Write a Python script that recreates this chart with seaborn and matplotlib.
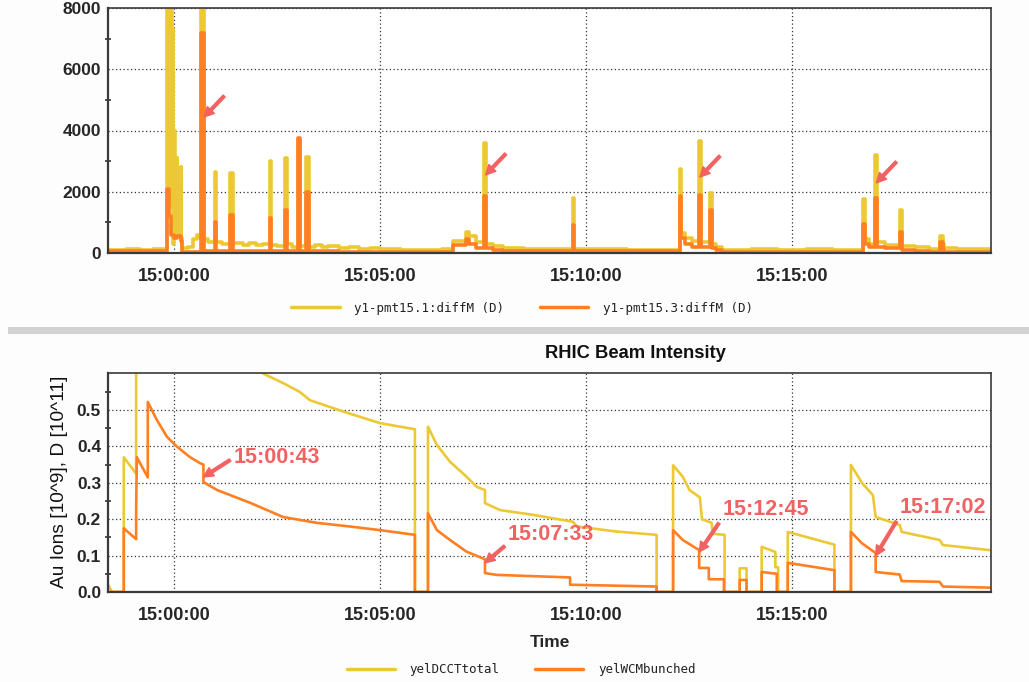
import matplotlib
matplotlib.use("Agg")
import matplotlib.pyplot as plt
from matplotlib.ticker import MultipleLocator, FixedLocator, FuncFormatter
from matplotlib.patches import Rectangle
import seaborn as sns

# ---------------- data (time in seconds after 15:00:00) ----------------
pmt1_t = [-96, -70, -50, -30, -10, -9, -8, -7, -6, -5, -4, -3, -2, -1, 0, 1, 2, 3, 4, 5,
          6, 7, 8, 9, 10, 11, 12, 20, 28, 33, 38, 40, 44, 50,
          60, 62, 70, 82, 86, 100, 110, 120, 130, 140, 142, 150, 162, 164, 172, 181, 183, 193, 197, 205,
          215, 225, 240, 255, 270, 285, 300, 330,
          360, 390, 406, 425, 430, 440, 452, 455, 465, 480, 510, 540, 581, 583, 620, 660, 700, 737, 739, 745,
          755, 765, 767, 781, 783, 790, 798, 840, 880, 920, 960, 1004, 1006, 1012, 1021, 1024, 1035, 1058, 1060, 1080,
          1100, 1116, 1120, 1122, 1140, 1160, 1190]
pmt1_v = [110, 130, 100, 120, 9000, 1500, 9000, 2000, 9000, 1800, 9000, 1500, 7300, 300, 4000, 600, 2800, 700, 3100, 600,
          2700, 600, 2100, 500, 2800, 500, 150, 200, 450, 600, 500, 9000, 450, 350,
          2650, 350, 300, 2600, 320, 260, 330, 250, 300, 3000, 260, 220, 3100, 280, 200, 3700, 240, 3150, 200, 260,
          180, 230, 170, 200, 140, 170, 120, 100,
          110, 130, 400, 700, 550, 350, 3600, 300, 220, 160, 140, 120, 1800, 130, 120, 110, 110, 2750, 650, 500,
          400, 3650, 350, 1950, 300, 200, 110, 120, 100, 130, 100, 1750, 450, 300, 3200, 350, 250, 1400, 220, 180,
          130, 550, 300, 150, 120, 140, 120]

pmt3_t = [-96, -60, -10, -7, -4, 0, 4, 10, 12, 40, 44, 60, 62, 82, 86, 140, 142, 162, 164, 181,
          183, 193, 197, 240, 406, 425, 430, 440, 452, 455, 465, 480, 581, 583, 737, 739, 745, 755, 765, 767,
          781, 783, 790, 798, 1004, 1006, 1012, 1021, 1024, 1035, 1058, 1060, 1080, 1100, 1116, 1120, 1122, 1190]
pmt3_v = [50, 60, 2100, 1200, 600, 500, 550, 400, 40, 7200, 60, 1000, 60, 1250, 60, 1150, 50, 1400, 50, 3750,
          50, 2000, 60, 40, 250, 450, 300, 150, 1850, 150, 100, 70, 900, 50, 1850, 500, 300, 200, 1900, 200,
          1400, 150, 100, 30, 950, 300, 200, 1800, 200, 150, 700, 100, 80, 40, 350, 100, 40, 30]

dcct_t = [-96, -90, -73, -73, -55, -55, 60, 130, 159, 183, 198, 232, 256, 300, 351, 351, 370, 370, 383, 402,
          426, 441, 453, 453, 475, 523, 581, 587, 645, 703, 703, 727, 727, 741, 751, 766, 769, 783, 785, 802,
          802, 824, 824, 834, 834, 856, 856, 876, 876, 880, 880, 894, 894, 962, 962, 986, 986, 1002, 1018, 1022,
          1057, 1060, 1115, 1120, 1188]
dcct_v = [0.02, 0.0, 0.0, 0.37, 0.325, 1.2, 0.75, 0.6, 0.574, 0.55, 0.527, 0.505, 0.49, 0.464, 0.447, 0.0, 0.0, 0.454, 0.404, 0.358,
          0.317, 0.289, 0.28, 0.244, 0.225, 0.212, 0.193, 0.18, 0.166, 0.157, 0.0, 0.0, 0.348, 0.317, 0.28, 0.26, 0.2, 0.19, 0.16, 0.157,
          0.0, 0.0, 0.065, 0.065, 0.0, 0.0, 0.124, 0.11, 0.068, 0.068, 0.0, 0.0, 0.165, 0.13, 0.0, 0.0, 0.349, 0.3, 0.266, 0.206,
          0.184, 0.165, 0.143, 0.129, 0.115]

wcm_t = [-96, -73, -73, -55, -55, -54, -38, -38, -25, -10, 4, 23, 38, 43, 43, 63, 111, 159, 208, 256,
         300, 351, 351, 370, 370, 383, 402, 426, 453, 453, 470, 577, 577, 703, 703, 727, 727, 741, 765, 765,
         779, 779, 801, 801, 824, 824, 834, 834, 856, 856, 878, 878, 894, 894, 962, 962, 986, 986, 1002, 1022,
         1022, 1057, 1060, 1115, 1120, 1188]
wcm_v = [0, 0, 0.175, 0.145, 0.23, 0.37, 0.315, 0.522, 0.473, 0.426, 0.40, 0.371, 0.354, 0.35, 0.302, 0.28, 0.245, 0.206, 0.19, 0.18,
         0.17, 0.157, 0, 0, 0.216, 0.17, 0.143, 0.111, 0.09, 0.052, 0.047, 0.04, 0.02, 0.015, 0, 0, 0.17, 0.143, 0.115, 0.066,
         0.066, 0.035, 0.035, 0, 0, 0.033, 0.033, 0, 0, 0.055, 0.05, 0, 0, 0.08, 0.06, 0, 0, 0.165, 0.134, 0.107,
         0.055, 0.048, 0.03, 0.028, 0.015, 0.012]

top_labels = ["y1-pmt15.1:diffM (D)", "y1-pmt15.3:diffM (D)"]
bottom_labels = ["yelDCCTtotal", "yelWCMbunched"]
event_labels = ["15:00:43", "15:07:33", "15:12:45", "15:17:02"]
top_arrow_values = [4440, 2550, 2480, 2290]
bottom_arrow_values = [0.316, 0.08, 0.11, 0.10]

YELLOW = "#ecc934"
ORANGE = "#ff7f22"
RED = "#f26262"

# ---------------- figure ----------------
sns.set_theme(style="white")
plt.rcParams["font.family"] = ["Liberation Sans", "DejaVu Sans"]

W, H = 1029, 682
fig = plt.figure(figsize=(W / 100, H / 100), dpi=100)
fig.patch.set_facecolor("#fdfdfd")
ax1 = fig.add_axes([108 / W, 1 - 253 / H, 883 / W, 245 / H])
ax2 = fig.add_axes([108 / W, 1 - 592 / H, 883 / W, 219 / H])


def fmt_time(s, pos=None):
    tot = int(round(15 * 3600 + s))
    return f"{tot // 3600:02d}:{(tot % 3600) // 60:02d}:{tot % 60:02d}"


def event_seconds(lbl):
    h, m, s = (int(p) for p in lbl.split(":"))
    return (h - 15) * 3600 + m * 60 + s


def style_axes(ax):
    ax.set_facecolor("white")
    ax.set_xlim(-96, 1190)
    ax.xaxis.set_major_locator(MultipleLocator(300))
    ax.xaxis.set_major_formatter(FuncFormatter(fmt_time))
    ax.grid(True, which="major", color="#333333", linestyle=(0, (1, 2)), linewidth=0.9)
    for side, sp in ax.spines.items():
        sp.set_visible(True)
        sp.set_color("#3a3a3a")
        sp.set_linewidth(1.6 if side in ("left", "bottom") else 1.2)
    ax.tick_params(axis="x", which="major", direction="out", length=4, width=1.2,
                   color="#333333", pad=7, labelsize=13)
    ax.tick_params(axis="y", which="major", length=0, pad=5, labelsize=12.5)
    ax.tick_params(axis="y", which="minor", direction="inout", length=5, width=1.2,
                   color="#333333", left=True)
    for lab in ax.get_xticklabels() + ax.get_yticklabels():
        lab.set_fontweight("bold")
    ax.set_xlabel("")
    ax.set_ylabel("")


# ---------- top panel ----------
sns.lineplot(x=pmt1_t, y=pmt1_v, ax=ax1, color=YELLOW, lw=2.6, estimator=None, sort=False,
             drawstyle="steps-post", label=top_labels[0])
sns.lineplot(x=pmt3_t, y=pmt3_v, ax=ax1, color=ORANGE, lw=2.6, estimator=None, sort=False,
             drawstyle="steps-post", label=top_labels[1])
ax1.set_ylim(0, 8000)
ax1.yaxis.set_major_locator(MultipleLocator(2000))
ax1.yaxis.set_minor_locator(FixedLocator([1000, 3000, 5000, 7000]))
style_axes(ax1)

for lbl, val in zip(event_labels, top_arrow_values):
    ax1.annotate("", xy=(event_seconds(lbl) + 1, val), xytext=(20, 21), textcoords="offset pixels",
                 arrowprops=dict(arrowstyle="simple,head_length=0.7,head_width=0.7,tail_width=0.2",
                                 color=RED, mutation_scale=10, shrinkA=0, shrinkB=0))

h, l = ax1.get_legend_handles_labels()
ax1.legend(h, l, ncol=2, loc="center", bbox_to_anchor=(522 / W, 1 - 308 / H),
           bbox_transform=fig.transFigure, frameon=False, handlelength=3.85, handletextpad=1.2,
           columnspacing=2.8, borderpad=0, prop={"family": "DejaVu Sans Mono", "size": 9})
for lh in ax1.get_legend().get_lines():
    lh.set_linewidth(2.5)
for t in ax1.get_legend().get_texts():
    t.set_color("#222222")

# ---------- bottom panel ----------
sns.lineplot(x=dcct_t, y=dcct_v, ax=ax2, color=YELLOW, lw=1.9, estimator=None, sort=False,
             label=bottom_labels[0])
sns.lineplot(x=wcm_t, y=wcm_v, ax=ax2, color=ORANGE, lw=1.9, estimator=None, sort=False,
             label=bottom_labels[1])
ax2.set_ylim(0, 0.6016)
ax2.yaxis.set_major_locator(FixedLocator([0.0, 0.1, 0.2, 0.3, 0.4, 0.5]))
ax2.yaxis.set_major_formatter(FuncFormatter(lambda v, p: f"{v:.1f}"))
ax2.yaxis.set_minor_locator(FixedLocator([0.05, 0.15, 0.25, 0.35, 0.45, 0.55]))
style_axes(ax2)
ax2.set_xlabel("Time", fontsize=12.5, fontweight="bold", labelpad=8)

text_offsets = [(30, 19), (23, 28), (23, 42), (24, 48)]
rel_positions = [(0, 0.5), (0, 0.1), (0, 0.1), (0, 0.1)]
for lbl, val, off, rp in zip(event_labels, bottom_arrow_values, text_offsets, rel_positions):
    ax2.annotate(lbl, xy=(event_seconds(lbl), val), xytext=off, textcoords="offset pixels",
                 ha="left", va="center", color=RED, fontsize=15.5, fontweight="bold",
                 arrowprops=dict(arrowstyle="simple,head_length=0.7,head_width=0.7,tail_width=0.2",
                                 color=RED, mutation_scale=10, shrinkA=0, shrinkB=0, relpos=rp))

h, l = ax2.get_legend_handles_labels()
ax2.legend(h, l, ncol=2, loc="center", bbox_to_anchor=(521 / W, 1 - 670 / H),
           bbox_transform=fig.transFigure, frameon=False, handlelength=3.85, handletextpad=1.2,
           columnspacing=2.8, borderpad=0, prop={"family": "DejaVu Sans Mono", "size": 9})
for lh in ax2.get_legend().get_lines():
    lh.set_linewidth(2.5)
for t in ax2.get_legend().get_texts():
    t.set_color("#222222")

fig.text(635 / W, 1 - 353 / H, "RHIC Beam Intensity", ha="center", va="center",
         fontsize=13.2, fontweight="bold", color="#111111")
fig.text(59 / W, 1 - 482 / H, "Au Ions [10^9], D [10^11]", ha="center", va="center",
         rotation=90, fontsize=13.8, color="#111111")

# separator band between the two panels
fig.patches.append(Rectangle((8 / W, 1 - 334 / H), 1 - 8 / W, 7 / H, transform=fig.transFigure,
                             facecolor="#d2d2d2", edgecolor="none", zorder=0))

fig.savefig("out.png", dpi=100, facecolor=fig.get_facecolor())
